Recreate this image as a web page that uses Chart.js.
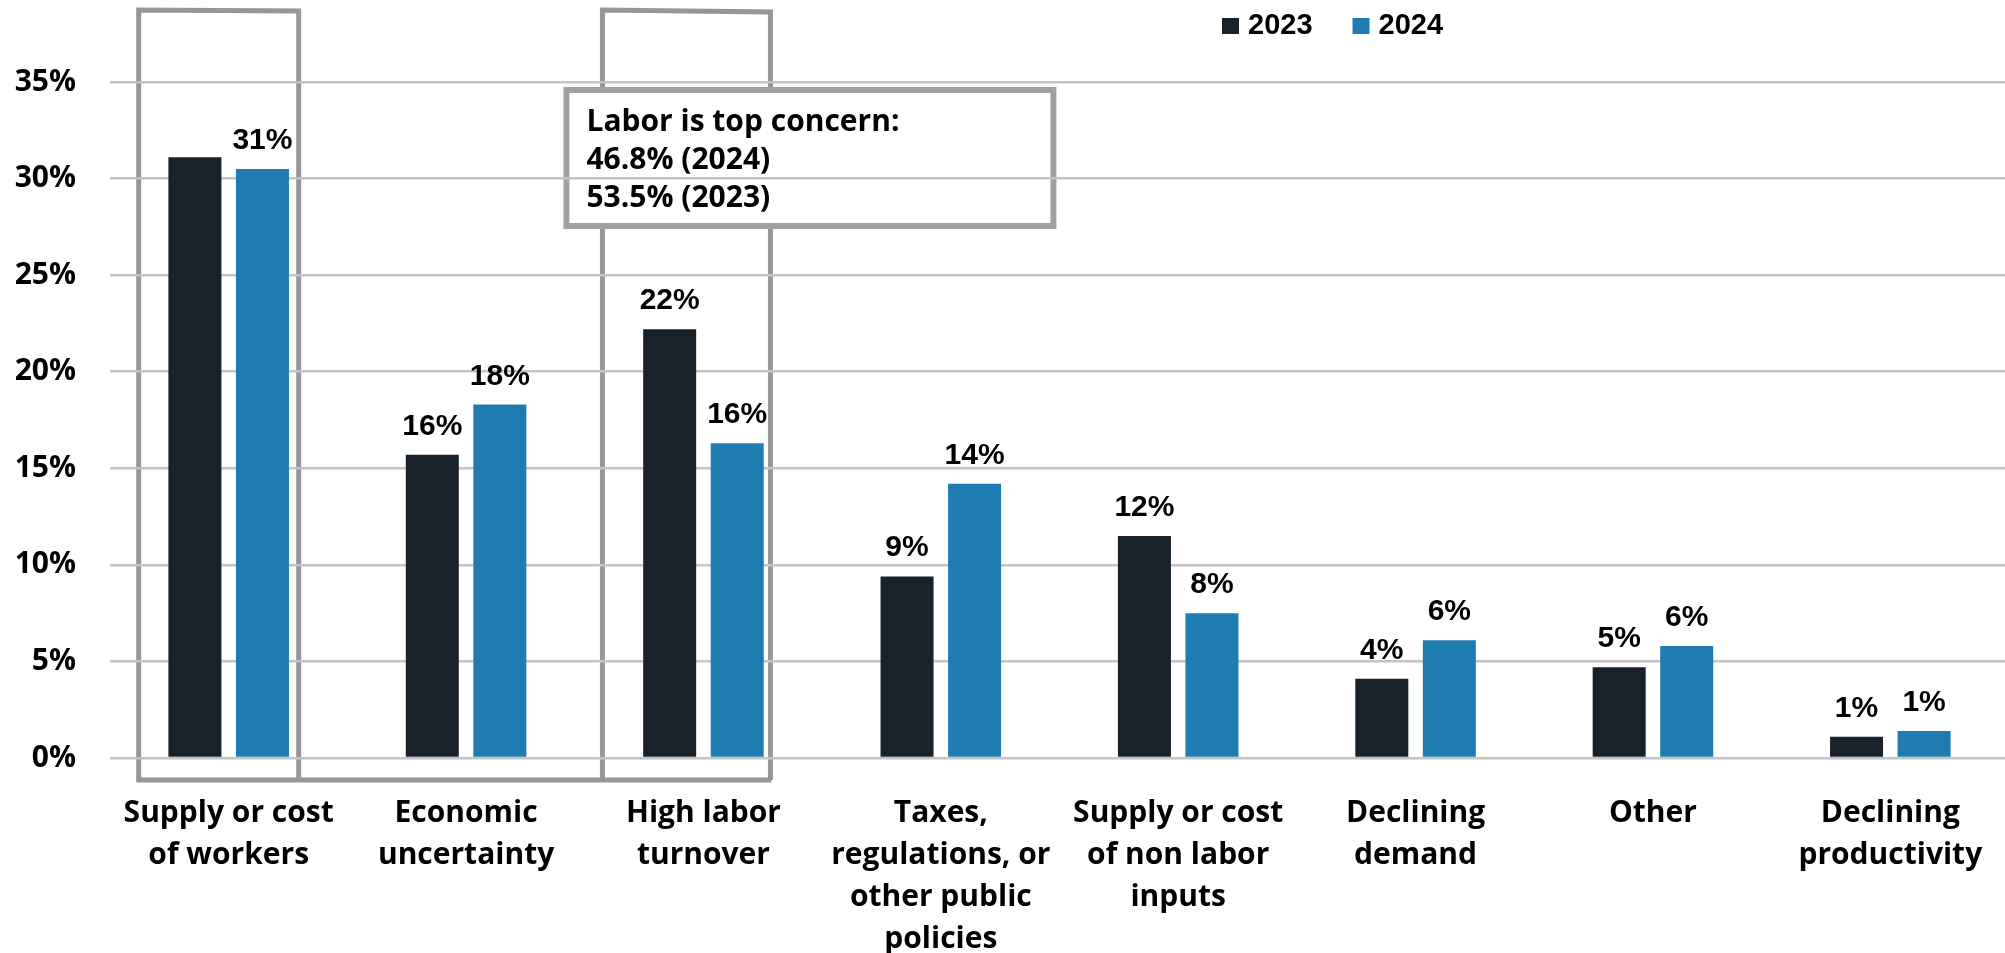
<!DOCTYPE html>
<html><head><meta charset="utf-8">
<script src="https://cdn.jsdelivr.net/npm/chart.js@4.4.1/dist/chart.umd.min.js"></script>
<style>
html,body{margin:0;padding:0;background:#fff;overflow:hidden;}
#wrap{position:relative;width:2009px;height:953px;}
</style></head><body>
<div id="wrap"><canvas id="c"></canvas></div>
<script>
const categories = [["Supply or cost","of workers"],["Economic","uncertainty"],["High labor","turnover"],["Taxes,","regulations, or","other public","policies"],["Supply or cost","of non labor","inputs"],["Declining","demand"],["Other"],["Declining","productivity"]];
const seriesNames = ["2023","2024"];
const values2023 = [31.1,15.7,22.2,9.4,11.5,4.1,4.7,1.1];
const values2024 = [30.5,18.3,16.3,14.2,7.5,6.1,5.8,1.4];
const labels2023 = [null,"16%","22%","9%","12%","4%","5%","1%"];
const labels2024 = ["31%","18%","16%","14%","8%","6%","6%","1%"];
const yTicks = [0,5,10,15,20,25,30,35];
const annotationLines = ["Labor is top concern:","46.8% (2024)","53.5% (2023)"];
const highlightedCategories = [0,2];

const DARK = '#19212b', BLUE = '#1f7cb1';
const SEGOE = "'Open Sans', 'Noto Sans', sans-serif";
const ARIAL = "'Liberation Sans', Arial, sans-serif";

const overlay = {
  id:'overlay',
  beforeDraw(chart){
    const ctx = chart.ctx, xs = chart.scales.x, ys = chart.scales.y;
    ctx.save();
    ctx.fillStyle = '#fff';
    ctx.fillRect(0,0,chart.width,chart.height);
    const c0 = xs.getPixelForValue(highlightedCategories[0]);
    const c2 = xs.getPixelForValue(highlightedCategories[1]);
    const bottom = ys.bottom + 22;
    const b1l = c0 - 90, b1r = c0 + 70, b2l = c2 - 101, b2r = c2 + 67;
    ctx.strokeStyle = 'rgba(100,100,100,0.68)';
    ctx.lineWidth = 5;
    ctx.lineJoin = 'miter';
    ctx.beginPath();
    ctx.moveTo(b1r, bottom); ctx.lineTo(b1r, 11); ctx.lineTo(b1l, 10); ctx.lineTo(b1l, bottom);
    ctx.lineTo(b2r+1, bottom);
    ctx.moveTo(b2l, bottom); ctx.lineTo(b2l, 10); ctx.lineTo(b2r, 12); ctx.lineTo(b2r, bottom);
    ctx.stroke();
    // annotation box
    const ax = c2 - 137, ay = 90, aw = 487, ah = 136;
    ctx.fillStyle = '#fff';
    ctx.fillRect(ax, ay, aw, ah);
    ctx.strokeStyle = '#a0a0a0';
    ctx.lineWidth = 6;
    ctx.strokeRect(ax, ay, aw, ah);
    ctx.fillStyle = '#000';
    ctx.font = "700 30px " + SEGOE;
    ctx.textAlign = 'left';
    ctx.textBaseline = 'alphabetic';
    annotationLines.forEach((t,i)=>ctx.fillText(t, ax + 20, 131 + i*38));
    ctx.restore();
  },
  afterDatasetsDraw(chart){
    const ctx = chart.ctx;
    ctx.save();
    ctx.fillStyle = '#000';
    ctx.font = "700 30px " + ARIAL;
    ctx.textAlign = 'center';
    ctx.textBaseline = 'alphabetic';
    chart.data.datasets.forEach((ds,i)=>{
      const meta = chart.getDatasetMeta(i);
      meta.data.forEach((bar,j)=>{
        const t = ds.valueLabels[j];
        if(!t) return;
        ctx.fillText(t, bar.x, bar.y - 20);
      });
    });
    ctx.restore();
  },
  afterDraw(chart){
    const ctx = chart.ctx;
    ctx.save();
    ctx.font = "700 29px " + ARIAL;
    ctx.textBaseline = 'middle';
    ctx.textAlign = 'left';
    let x = 1222;
    chart.data.datasets.forEach((ds)=>{
      ctx.fillStyle = ds.backgroundColor;
      ctx.fillRect(x, 18, 17, 16);
      ctx.fillStyle = '#000';
      ctx.fillText(ds.label, x + 26, 26);
      x += 26 + ctx.measureText(ds.label).width + 40;
    });
    ctx.restore();
  }
};

new Chart(document.getElementById('c'), {
  type:'bar',
  data:{
    labels: categories,
    datasets:[
      {label:seriesNames[0], data:values2023, backgroundColor:DARK, valueLabels:labels2023, barPercentage:0.785, categoryPercentage:0.569},
      {label:seriesNames[1], data:values2024, backgroundColor:BLUE, valueLabels:labels2024, barPercentage:0.785, categoryPercentage:0.569}
    ]
  },
  options:{
    responsive:true, maintainAspectRatio:false, animation:false,
    layout:{padding:{top:82,left:0,right:0,bottom:0}},
    plugins:{legend:{display:false}, tooltip:{enabled:false}},
    scales:{
      x:{
        grid:{display:false}, border:{display:false},
        ticks:{color:'#000', font:{family:SEGOE, weight:'700', size:30, lineHeight:1.4}, padding:26, maxRotation:0, minRotation:0, autoSkip:false},
        afterFit(s){ s.height = 195; }
      },
      y:{
        min:yTicks[0], max:yTicks[yTicks.length-1],
        ticks:{stepSize:yTicks[1]-yTicks[0], callback:v=>v+'%', color:'#000', font:{family:SEGOE, weight:'700', size:30}, padding:34},
        grid:{color:'#c4c4c4', lineWidth:2.5, drawTicks:false},
        border:{display:false},
        afterFit(s){ s.width = 110; }
      }
    }
  },
  plugins:[overlay]
});
</script>
</body></html>
